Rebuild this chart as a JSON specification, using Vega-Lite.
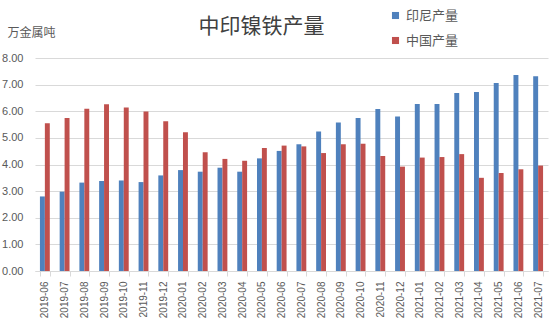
{
  "$schema": "https://vega.github.io/schema/vega-lite/v6.json",
  "width": 513,
  "height": 213,
  "autosize": {"type": "none"},
  "padding": {"left": 35, "top": 58, "right": 2, "bottom": 58},
  "background": "white",
  "title": {"text": "中印镍铁产量", "anchor": "middle", "frame": "group", "dx": -30, "offset": -28, "fontSize": 21, "font": "Noto Sans CJK SC", "fontWeight": "normal", "color": "#404040"},
  "data": {"values": [
    {"month": "2019-06", "series": "印尼产量", "value": 2.80}, {"month": "2019-06", "series": "中国产量", "value": 5.55},
    {"month": "2019-07", "series": "印尼产量", "value": 2.98}, {"month": "2019-07", "series": "中国产量", "value": 5.75},
    {"month": "2019-08", "series": "印尼产量", "value": 3.32}, {"month": "2019-08", "series": "中国产量", "value": 6.09},
    {"month": "2019-09", "series": "印尼产量", "value": 3.38}, {"month": "2019-09", "series": "中国产量", "value": 6.26},
    {"month": "2019-10", "series": "印尼产量", "value": 3.40}, {"month": "2019-10", "series": "中国产量", "value": 6.14},
    {"month": "2019-11", "series": "印尼产量", "value": 3.34}, {"month": "2019-11", "series": "中国产量", "value": 5.99},
    {"month": "2019-12", "series": "印尼产量", "value": 3.59}, {"month": "2019-12", "series": "中国产量", "value": 5.62},
    {"month": "2020-01", "series": "印尼产量", "value": 3.79}, {"month": "2020-01", "series": "中国产量", "value": 5.21},
    {"month": "2020-02", "series": "印尼产量", "value": 3.73}, {"month": "2020-02", "series": "中国产量", "value": 4.46},
    {"month": "2020-03", "series": "印尼产量", "value": 3.88}, {"month": "2020-03", "series": "中国产量", "value": 4.21},
    {"month": "2020-04", "series": "印尼产量", "value": 3.73}, {"month": "2020-04", "series": "中国产量", "value": 4.14},
    {"month": "2020-05", "series": "印尼产量", "value": 4.23}, {"month": "2020-05", "series": "中国产量", "value": 4.62},
    {"month": "2020-06", "series": "印尼产量", "value": 4.51}, {"month": "2020-06", "series": "中国产量", "value": 4.71},
    {"month": "2020-07", "series": "印尼产量", "value": 4.76}, {"month": "2020-07", "series": "中国产量", "value": 4.68},
    {"month": "2020-08", "series": "印尼产量", "value": 5.24}, {"month": "2020-08", "series": "中国产量", "value": 4.43},
    {"month": "2020-09", "series": "印尼产量", "value": 5.58}, {"month": "2020-09", "series": "中国产量", "value": 4.76},
    {"month": "2020-10", "series": "印尼产量", "value": 5.75}, {"month": "2020-10", "series": "中国产量", "value": 4.78},
    {"month": "2020-11", "series": "印尼产量", "value": 6.08}, {"month": "2020-11", "series": "中国产量", "value": 4.32},
    {"month": "2020-12", "series": "印尼产量", "value": 5.80}, {"month": "2020-12", "series": "中国产量", "value": 3.92},
    {"month": "2021-01", "series": "印尼产量", "value": 6.27}, {"month": "2021-01", "series": "中国产量", "value": 4.26},
    {"month": "2021-02", "series": "印尼产量", "value": 6.27}, {"month": "2021-02", "series": "中国产量", "value": 4.28},
    {"month": "2021-03", "series": "印尼产量", "value": 6.69}, {"month": "2021-03", "series": "中国产量", "value": 4.39},
    {"month": "2021-04", "series": "印尼产量", "value": 6.72}, {"month": "2021-04", "series": "中国产量", "value": 3.50},
    {"month": "2021-05", "series": "印尼产量", "value": 7.06}, {"month": "2021-05", "series": "中国产量", "value": 3.68},
    {"month": "2021-06", "series": "印尼产量", "value": 7.36}, {"month": "2021-06", "series": "中国产量", "value": 3.82},
    {"month": "2021-07", "series": "印尼产量", "value": 7.31}, {"month": "2021-07", "series": "中国产量", "value": 3.96}
  ]},
  "mark": {"type": "bar"},
  "encoding": {
    "x": {
      "field": "month", "type": "ordinal",
      "scale": {"paddingInner": 0.5, "paddingOuter": 0.25},
      "axis": {"title": null, "labelAngle": 270, "labelFontSize": 10, "labelColor": "#595959", "labelFont": "Liberation Sans", "labelPadding": 5, "domainColor": "#d9d9d9", "tickColor": "#d9d9d9", "tickBand": "extent", "tickSize": 5, "grid": false}
    },
    "xOffset": {"field": "series", "scale": {"domain": ["印尼产量", "中国产量"], "paddingInner": 0, "paddingOuter": 0}},
    "y": {
      "field": "value", "type": "quantitative",
      "scale": {"domain": [0, 8]},
      "axis": {"title": "万金属吨", "titleAngle": 0, "titleAlign": "left", "titleBaseline": "middle", "titleX": -28, "titleY": -26, "titleFontSize": 12, "titleFontWeight": "normal", "titleColor": "#595959", "titleFont": "Noto Sans CJK SC", "format": ".2f", "values": [0, 1, 2, 3, 4, 5, 6, 7, 8], "labelFontSize": 11, "labelColor": "#595959", "labelFont": "Liberation Sans", "labelPadding": 12, "labelOverlap": false, "ticks": false, "domain": false, "gridColor": "#d9d9d9"}
    },
    "color": {
      "field": "series", "type": "nominal",
      "scale": {"domain": ["印尼产量", "中国产量"], "range": ["#4f81bd", "#c0504d"]},
      "legend": {"title": null, "orient": "none", "legendX": 354, "legendY": -49, "direction": "vertical", "symbolType": "square", "symbolSize": 50, "symbolStrokeWidth": 0, "labelFontSize": 13, "labelColor": "#595959", "labelFont": "Noto Sans CJK SC", "rowPadding": 11, "labelOffset": 4}
    }
  },
  "config": {"view": {"stroke": null}}
}
